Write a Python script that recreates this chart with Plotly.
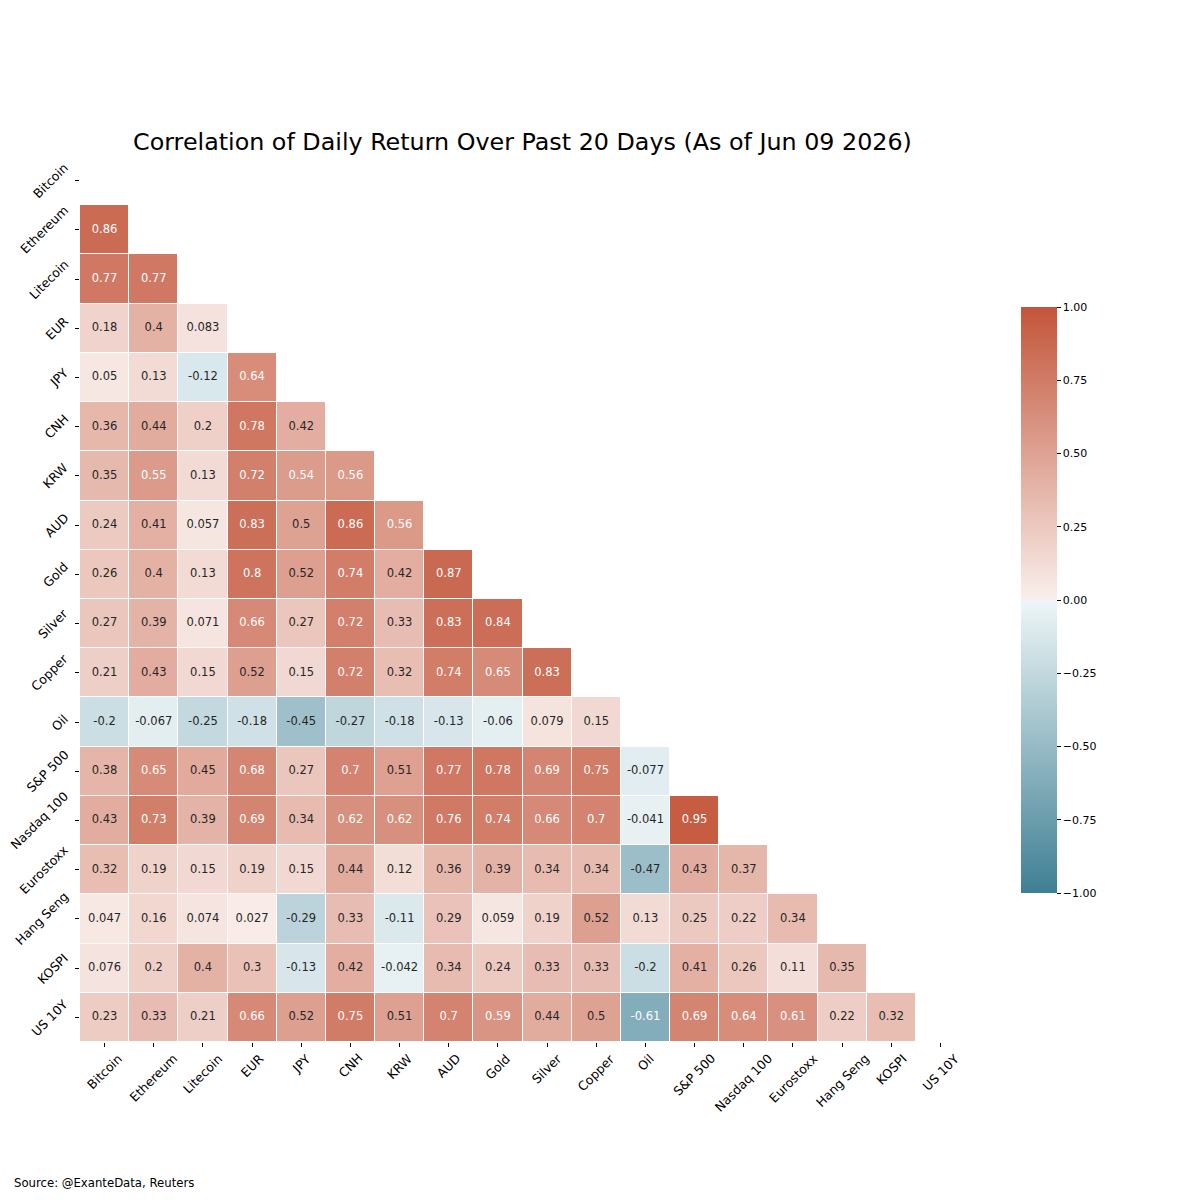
import colorsys
import plotly.graph_objects as go

# ---------------- data ----------------
labels = ["Bitcoin", "Ethereum", "Litecoin", "EUR", "JPY", "CNH", "KRW", "AUD",
          "Gold", "Silver", "Copper", "Oil", "S&P 500", "Nasdaq 100", "Eurostoxx",
          "Hang Seng", "KOSPI", "US 10Y"]

# lower-triangle correlations (row i holds correlations with columns 0..i-1)
row_bitcoin = []
row_ethereum = [0.86]
row_litecoin = [0.77, 0.77]
row_eur = [0.18, 0.4, 0.083]
row_jpy = [0.05, 0.13, -0.12, 0.64]
row_cnh = [0.36, 0.44, 0.2, 0.78, 0.42]
row_krw = [0.35, 0.55, 0.13, 0.72, 0.54, 0.56]
row_aud = [0.24, 0.41, 0.057, 0.83, 0.5, 0.86, 0.56]
row_gold = [0.26, 0.4, 0.13, 0.8, 0.52, 0.74, 0.42, 0.87]
row_silver = [0.27, 0.39, 0.071, 0.66, 0.27, 0.72, 0.33, 0.83, 0.84]
row_copper = [0.21, 0.43, 0.15, 0.52, 0.15, 0.72, 0.32, 0.74, 0.65, 0.83]
row_oil = [-0.2, -0.067, -0.25, -0.18, -0.45, -0.27, -0.18, -0.13, -0.06, 0.079, 0.15]
row_sp500 = [0.38, 0.65, 0.45, 0.68, 0.27, 0.7, 0.51, 0.77, 0.78, 0.69, 0.75, -0.077]
row_nasdaq = [0.43, 0.73, 0.39, 0.69, 0.34, 0.62, 0.62, 0.76, 0.74, 0.66, 0.7, -0.041, 0.95]
row_eurostoxx = [0.32, 0.19, 0.15, 0.19, 0.15, 0.44, 0.12, 0.36, 0.39, 0.34, 0.34, -0.47, 0.43, 0.37]
row_hangseng = [0.047, 0.16, 0.074, 0.027, -0.29, 0.33, -0.11, 0.29, 0.059, 0.19, 0.52, 0.13, 0.25, 0.22, 0.34]
row_kospi = [0.076, 0.2, 0.4, 0.3, -0.13, 0.42, -0.042, 0.34, 0.24, 0.33, 0.33, -0.2, 0.41, 0.26, 0.11, 0.35]
row_us10y = [0.23, 0.33, 0.21, 0.66, 0.52, 0.75, 0.51, 0.7, 0.59, 0.44, 0.5, -0.61, 0.69, 0.64, 0.61, 0.22, 0.32]

rows = [row_bitcoin, row_ethereum, row_litecoin, row_eur, row_jpy, row_cnh, row_krw,
        row_aud, row_gold, row_silver, row_copper, row_oil, row_sp500, row_nasdaq,
        row_eurostoxx, row_hangseng, row_kospi, row_us10y]

colorbar_ticks = [-1.0, -0.75, -0.5, -0.25, 0.0, 0.25, 0.5, 0.75, 1.0]

title_text = "Correlation of Daily Return Over Past 20 Days (As of Jun 09 2026)"
source_text = "Source: @ExanteData, Reuters"

# ---------------- colormap (seaborn diverging_palette(220, 20)) ----------------
low = (63, 127, 147)
high = (195, 85, 58)
mid = (242, 242, 242)


def light_of(rgb):
    h, l, s = colorsys.rgb_to_hls(*[c / 255 for c in rgb])
    r, g, b = colorsys.hls_to_rgb(h, 0.95, s)
    return (round(r * 255), round(g * 255), round(b * 255))


light_low = light_of(low)
light_high = light_of(high)
stops = [(0.0, low), (127 / 256, light_low), (128 / 256, mid), (129 / 256, light_high), (1.0, high)]


def rgbstr(c):
    return "rgb(%d,%d,%d)" % c


colorscale = [[p, rgbstr(c)] for p, c in stops]


def text_color(v):
    # light text on the darker cells, dark text elsewhere
    return "#ffffff" if (v > 0.53 or v < -0.55) else "#262626"


# ---------------- build matrix ----------------
n = len(labels)
z = []
for i in range(n):
    z.append([rows[i][j] if j < i else None for j in range(n)])

tx, ty, tt, tc = [], [], [], []
for i in range(n):
    for j in range(i):
        v = rows[i][j]
        tx.append(labels[j])
        ty.append(labels[i])
        tt.append("{:.2g}".format(v))
        tc.append(text_color(v))

FONT = "DejaVu Sans"

# page body has an 8px margin; offsets below compensate
OFF = 8
L, R_EDGE, T, B_EDGE = 80 - OFF, 965 - OFF, 156 - OFF, 1042 - OFF
PW, PH = R_EDGE - L, B_EDGE - T

fig = go.Figure()
fig.add_trace(go.Heatmap(
    z=z, x=labels, y=labels,
    zmin=-1, zmax=1,
    colorscale=colorscale,
    xgap=1, ygap=1,
    hoverongaps=False,
    colorbar=dict(
        x=(1021 - OFF - L) / PW, xanchor="left", xref="paper", xpad=0,
        y=(B_EDGE - (600 - OFF)) / PH, yanchor="middle", ypad=0,
        len=586 / PH, lenmode="fraction",
        thickness=36, outlinewidth=0,
        ticks="outside", ticklen=4, tickwidth=1, tickcolor="#000000",
        tickvals=colorbar_ticks,
        ticktext=[("{:.2f}".format(t)).replace("-", "\u2212") for t in colorbar_ticks],
        tickfont=dict(family=FONT, size=11, color="#000000"),
    ),
))

fig.add_trace(go.Scatter(
    x=tx, y=ty, mode="text", text=tt,
    textfont=dict(family=FONT, size=11.5, color=tc),
    hoverinfo="skip", showlegend=False,
))

annotations = []
for lab in labels:
    annotations.append(dict(
        x=lab, xref="x", y=0, yref="paper",
        text=lab, showarrow=False, textangle=-45,
        xanchor="center", yanchor="top", yshift=-6,
        font=dict(family=FONT, size=12.5, color="#000000"),
    ))
    annotations.append(dict(
        x=0, xref="paper", y=lab, yref="y",
        text=lab, showarrow=False, textangle=-45,
        xanchor="right", yanchor="middle", xshift=-6,
        font=dict(family=FONT, size=12.5, color="#000000"),
    ))
annotations.append(dict(
    x=(12 - OFF - L) / PW, xref="paper", y=(B_EDGE - (1183 - OFF)) / PH, yref="paper",
    text=source_text, showarrow=False, xanchor="left", yanchor="middle",
    font=dict(family=FONT, size=11.7, color="#000000"),
))

fig.update_layout(
    width=1200, height=1200,
    margin=dict(l=L, r=1200 - R_EDGE, t=T, b=1200 - B_EDGE),
    paper_bgcolor="white", plot_bgcolor="white",
    title=dict(text=title_text, x=0.5, xref="paper", xanchor="center",
               y=1 - (142 - OFF) / 1200, yref="container", yanchor="middle",
               font=dict(family=FONT, size=23.8, color="#000000")),
    annotations=annotations,
    showlegend=False,
)
fig.update_xaxes(
    type="category", categoryorder="array", categoryarray=labels,
    range=[-0.5, n - 0.5], showgrid=False, zeroline=False, showline=False,
    ticks="outside", ticklen=4, tickwidth=1, tickcolor="#000000",
    tickmode="array", tickvals=labels, showticklabels=False, fixedrange=True,
)
fig.update_yaxes(
    type="category", categoryorder="array", categoryarray=labels,
    range=[n - 0.5, -0.5], showgrid=False, zeroline=False, showline=False,
    ticks="outside", ticklen=4, tickwidth=1, tickcolor="#000000",
    tickmode="array", tickvals=labels, showticklabels=False, fixedrange=True,
)

fig.write_html("out.html")
